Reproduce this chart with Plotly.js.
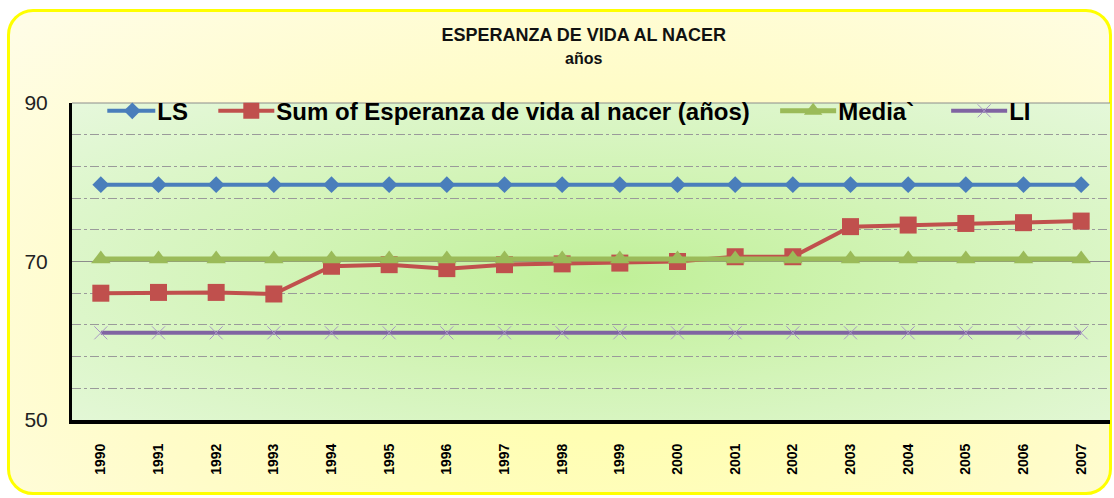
<!DOCTYPE html>
<html>
<head>
<meta charset="utf-8">
<script src="https://cdn.plot.ly/plotly-3.0.1.min.js"></script>
<style>
  html, body { margin: 0; padding: 0; background: #ffffff; }
  #wrap { position: relative; width: 1114px; height: 498px; overflow: hidden; }
  #outer { position: absolute; left: 7px; top: 9px; width: 1099px; height: 480px;
    border: 3px solid #ffff00; border-radius: 26px;
    background: radial-gradient(ellipse at 55% 70%, #ffffa8 0%, #fffcc8 55%, #fffde8 100%); }
  #plotbg { position: absolute; left: 72px; top: 103px; width: 1038px; height: 317px;
    background: radial-gradient(ellipse at 52% 55%, #c0f098 0%, #d3f4b8 45%, #e6f8dc 100%); }
  #chart { position: absolute; left: 0; top: 0; width: 1114px; height: 498px; }
</style>
</head>
<body>
<div id="wrap">
  <div id="outer"></div>
  <div id="plotbg"></div>
  <div id="chart"></div>
</div>
<script>
const years = ['1990','1991','1992','1993','1994','1995','1996','1997','1998','1999',
               '2000','2001','2002','2003','2004','2005','2006','2007'];
const ls    = [79.7,79.7,79.7,79.7,79.7,79.7,79.7,79.7,79.7,79.7,79.7,79.7,79.7,79.7,79.7,79.7,79.7,79.7];
const esperanza = [66.0,66.1,66.1,65.9,69.4,69.6,69.1,69.6,69.7,69.8,70.0,70.6,70.6,74.4,74.6,74.8,74.9,75.1];
const media = [70.3,70.3,70.3,70.3,70.3,70.3,70.3,70.3,70.3,70.3,70.3,70.3,70.3,70.3,70.3,70.3,70.3,70.3];
const li    = [61.0,61.0,61.0,61.0,61.0,61.0,61.0,61.0,61.0,61.0,61.0,61.0,61.0,61.0,61.0,61.0,61.0,61.0];
const yTicks = [50, 70, 90];
const seriesNames = ['LS', 'Sum of Esperanza de vida al nacer (años)', 'Media`', 'LI'];

const gap = '\u00a0\u00a0\u00a0\u00a0\u00a0';

const traces = [
  { x: years, y: ls, name: seriesNames[0] + gap, type: 'scatter', mode: 'lines+markers',
    line: { color: '#4a7ebb', width: 4 },
    marker: { symbol: 'diamond', size: 13, color: '#4a7ebb' } },
  { x: years, y: esperanza, name: seriesNames[1] + gap, type: 'scatter', mode: 'lines+markers',
    line: { color: '#c0504d', width: 4 },
    marker: { symbol: 'square', size: 17, color: '#c0504d' } },
  { x: years, y: media, name: seriesNames[2] + gap + '\u00a0', type: 'scatter', mode: 'lines+markers',
    line: { color: '#9bbb59', width: 5 },
    marker: { symbol: 'triangle-up', size: 17, color: '#9bbb59' } },
  { x: years, y: li, name: seriesNames[3], type: 'scatter', mode: 'lines+markers',
    line: { color: '#8064a2', width: 4 },
    marker: { symbol: 'x-thin-open', size: 13, color: '#a898c4', line: { width: 1, color: '#a898c4' } } }
];

const layout = {
  width: 1114, height: 498,
  margin: { l: 72, r: 4, t: 103, b: 78 },
  paper_bgcolor: 'rgba(0,0,0,0)',
  plot_bgcolor: 'rgba(0,0,0,0)',
  font: { family: 'Liberation Sans, Arial, sans-serif', color: '#000' },
  title: {
    text: '<b>ESPERANZA DE VIDA AL NACER</b><br><span style="font-size:16px"><b>años</b></span>',
    font: { size: 18, color: '#111' },
    x: 0.524, xanchor: 'center', y: 0.918, yanchor: 'top'
  },
  showlegend: true,
  legend: {
    orientation: 'h', x: 0.034, xanchor: 'left', y: 1.045, yanchor: 'top',
    bgcolor: 'rgba(0,0,0,0)',
    font: { size: 24, color: '#000', family: 'Liberation Sans, Arial, sans-serif', weight: 'bold' },
    itemwidth: 40, traceorder: 'normal'
  },
  xaxis: {
    type: 'category', range: [-0.5, 17.5],
    showline: true, linecolor: '#000', linewidth: 4,
    showgrid: false, zeroline: false,
    tickangle: -90, ticks: '',
    tickfont: { size: 14, color: '#000', weight: 'bold' },
    ticklabelstandoff: 14
  },
  yaxis: {
    range: [50, 90], tickvals: yTicks, ticktext: yTicks.map(String),
    showline: true, linecolor: '#000', linewidth: 3,
    showgrid: true, gridcolor: '#8c8c8c', gridwidth: 1,
    zeroline: false, ticks: '',
    tickfont: { size: 21, color: '#222' },
    ticklabelstandoff: 17,
    minor: { dtick: 4, tick0: 50, showgrid: true, gridcolor: '#9a9a9a', griddash: 'dashdot', gridwidth: 1 }
  },
  shapes: [
    { type: 'line', xref: 'paper', yref: 'paper', x0: 0, x1: 1, y0: 1, y1: 1,
      line: { color: '#8c8c8c', width: 1 } }
  ]
};

Plotly.newPlot('chart', traces, layout, { displayModeBar: false, staticPlot: true }).then(function (gd) {
  // lengthen the legend line samples like the original (Excel-style legend keys)
  gd.querySelectorAll('.legend .legendlines path').forEach(function (p) {
    p.setAttribute('d', 'M-8,0h56');
  });
});
</script>
</body>
</html>
